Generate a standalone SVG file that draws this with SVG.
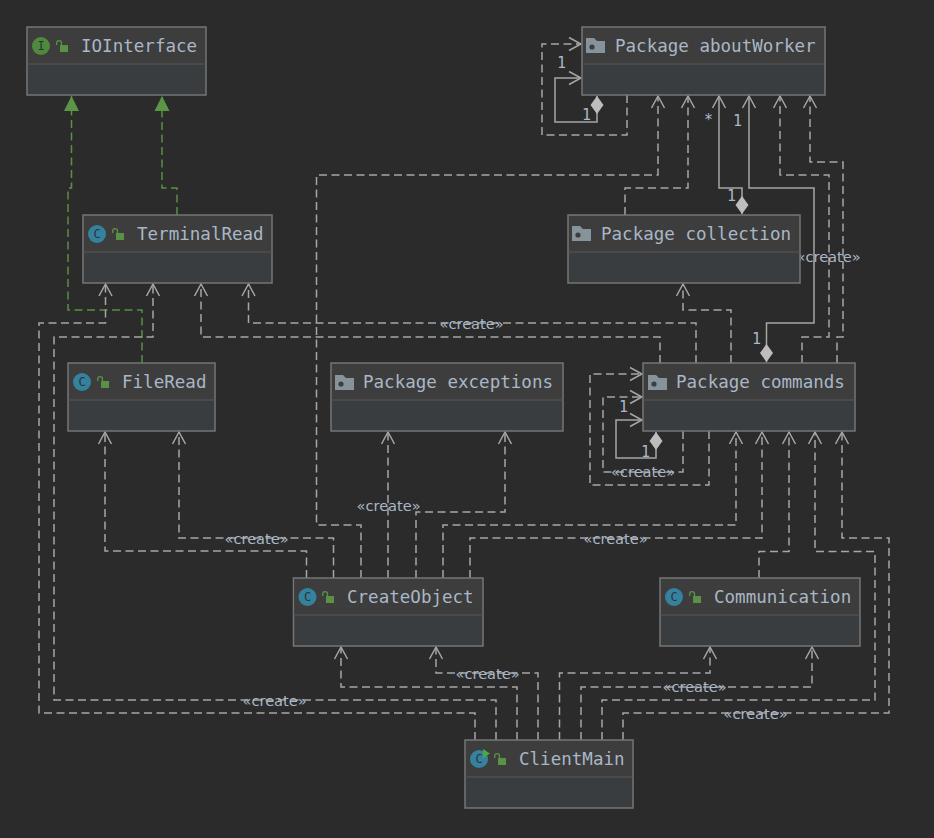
<svg xmlns="http://www.w3.org/2000/svg" xmlns:xlink="http://www.w3.org/1999/xlink" width="934" height="838" viewBox="0 0 934 838">
<style>
.bg{fill:#2b2b2b}
.body{fill:#3a3d3f;stroke:#757575;stroke-width:1.5}
.head{fill:#3d3d3d}
.div{stroke:#585858;stroke-width:1.2;fill:none}
.nm{font-family:"DejaVu Sans Mono","Liberation Mono",monospace;font-size:17.55px;fill:#a9b7c6}
.lb{font-family:"DejaVu Sans",sans-serif;font-size:14.6px;fill:#a9b7c6}
.mul{font-family:"DejaVu Sans Mono","Liberation Mono",monospace;font-size:15px;fill:#a9b7c6}
.dash{fill:none;stroke:#a6a6a6;stroke-width:1.5;stroke-dasharray:8 4.500;marker-end:url(#open)}
.solid{fill:none;stroke:#a6a6a6;stroke-width:1.5;marker-end:url(#open);marker-start:url(#dia)}
.real{fill:none;stroke:#5a8f46;stroke-width:1.5;stroke-dasharray:8 4.500;marker-end:url(#tri)}
.cc{fill:#35829f}
.ci{fill:#4f8a3c}
.ic{font-family:"DejaVu Sans Mono",monospace;font-size:12px;fill:#2b3338;text-anchor:middle}
.lock{fill:#599245}
.lockarc{fill:none;stroke:#599245;stroke-width:1.3}
.fold{fill:#87939a}
.hole{fill:#3d3d3d}
</style>
<defs>
<marker id="open" markerUnits="userSpaceOnUse" markerWidth="16" markerHeight="16" refX="14" refY="8" orient="auto" overflow="visible"><path d="M2 1.500 L14 8 L2 14.500" fill="none" stroke="#a6a6a6" stroke-width="1.5"/></marker>
<marker id="tri" markerUnits="userSpaceOnUse" markerWidth="16" markerHeight="16" refX="15" refY="8" orient="auto" overflow="visible"><path d="M0 0.5 L15 8 L0 15.5 Z" fill="#5a9646"/></marker>
<marker id="dia" markerUnits="userSpaceOnUse" markerWidth="19" markerHeight="14" refX="0" refY="7" orient="auto" overflow="visible"><path d="M0 7 L9 0.5 L18 7 L9 13.5 Z" fill="#bdbdbd"/></marker>
<g id="lk"><rect class="lock" x="4" y="4" width="8" height="7"/><path class="lockarc" d="M0.7 4 V2 A2.4 2.4 0 0 1 5.5 2 V4"/></g>
<g id="fd"><path class="fold" d="M0 0 H8 L11 3 H19 V15 H0 Z"/><circle class="hole" cx="6" cy="9" r="2.6"/></g>
</defs>
<rect class="bg" width="934" height="838"/>
<g id="connectors">
<path class="real" d="M142 363 V310 H68 V188 H71.500 V96"/>
<path class="real" d="M177 215 V188 H162 V96"/>
<path class="dash" d="M627 95 V135 H542 V44 H581"/>
<path class="solid" d="M597 96 V122 H555 V78 H581"/>
<path class="dash" d="M361 578 V525 H316.500 V175 H658 V96"/>
<path class="dash" d="M625 215 V188 H688 V96"/>
<path class="solid" d="M742 214 V188 H719 V96"/>
<path class="solid" d="M766.500 362 V323 H814 V188 H749 V96"/>
<path class="dash" d="M802 363 V337 H829 V175 H780 V96"/>
<path class="dash" d="M837 363 V337 H843 V162 H810 V96"/>
<path class="dash" d="M731 363 V310 H683 V284"/>
<path class="dash" d="M696 363 V323 H248.500 V284"/>
<path class="dash" d="M660 363 V337 H201 V284"/>
<path class="dash" d="M709 431 V485 H590 V374 H642"/>
<path class="dash" d="M683 431 V472 H603 V397 H642"/>
<path class="solid" d="M656 432 V458 H616 V420 H642"/>
<path class="dash" d="M443 578 V525 H736 V432"/>
<path class="dash" d="M470 578 V538 H762 V432"/>
<path class="dash" d="M759 578 V551.500 H789 V432"/>
<path class="dash" d="M602 740 V700 H875 V551.500 H815 V432"/>
<path class="dash" d="M623 740 V713 H889 V538 H842 V432"/>
<path class="dash" d="M388 578 V432"/>
<path class="dash" d="M416 578 V512 H505 V432"/>
<path class="dash" d="M306.500 578 V551 H105 V432"/>
<path class="dash" d="M333.500 578 V538 H179 V432"/>
<path class="dash" d="M517 740 V687 H341 V647"/>
<path class="dash" d="M538 740 V673 H436 V647"/>
<path class="dash" d="M559.500 740 V673 H710 V647"/>
<path class="dash" d="M581 740 V687 H812 V647"/>
<path class="dash" d="M475 740 V713 H39 V323 H105.500 V284"/>
<path class="dash" d="M496 740 V700 H54 V337 H153 V284"/>
<text class="lb" x="439.500" y="328.500">«create»</text>
<text class="lb" x="796.500" y="261.500">«create»</text>
<text class="lb" x="611" y="477">«create»</text>
<text class="lb" x="356.500" y="510.500">«create»</text>
<text class="lb" x="224.500" y="543.500">«create»</text>
<text class="lb" x="583.500" y="543.500">«create»</text>
<text class="lb" x="455.500" y="678.500">«create»</text>
<text class="lb" x="662.500" y="692">«create»</text>
<text class="lb" x="242.500" y="705.500">«create»</text>
<text class="lb" x="723.500" y="718.500">«create»</text>
<text class="mul" x="557" y="68">1</text>
<text class="mul" x="582" y="120">1</text>
<text class="mul" x="704" y="125">*</text>
<text class="mul" x="733" y="126">1</text>
<text class="mul" x="727" y="201">1</text>
<text class="mul" x="752" y="344">1</text>
<text class="mul" x="619" y="412">1</text>
<text class="mul" x="641" y="457">1</text>
</g>
<g id="node-iointerface"><rect class="body" x="27" y="27" width="179" height="68"/><rect class="head" x="28" y="28" width="177" height="36"/><path class="div" d="M27 64 H206"/><circle class="ci" cx="41" cy="46" r="9"/><text class="ic" x="41" y="50">I</text><use href="#lk" x="56" y="41"/><text class="nm" x="81" y="51.500">IOInterface</text></g>
<g id="node-terminalread"><rect class="body" x="83" y="215" width="189" height="68"/><rect class="head" x="84" y="216" width="187" height="36"/><path class="div" d="M83 252 H272"/><circle class="cc" cx="97" cy="234" r="9"/><text class="ic" x="97" y="238">C</text><use href="#lk" x="112" y="229"/><text class="nm" x="137" y="239.500">TerminalRead</text></g>
<g id="node-aboutworker"><rect class="body" x="582" y="27" width="243" height="68"/><rect class="head" x="583" y="28" width="241" height="36"/><path class="div" d="M582 64 H825"/><use href="#fd" x="586" y="38"/><text class="nm" x="615" y="51.500">Package aboutWorker</text></g>
<g id="node-collection"><rect class="body" x="568" y="215" width="232" height="68"/><rect class="head" x="569" y="216" width="230" height="36"/><path class="div" d="M568 252 H800"/><use href="#fd" x="572" y="226"/><text class="nm" x="601" y="239.500">Package collection</text></g>
<g id="node-commands"><rect class="body" x="643" y="363" width="212" height="68"/><rect class="head" x="644" y="364" width="210" height="36"/><path class="div" d="M643 400 H855"/><use href="#fd" x="648" y="375"/><text class="nm" x="676" y="387.500">Package commands</text></g>
<g id="node-fileread"><rect class="body" x="68" y="363" width="147" height="68"/><rect class="head" x="69" y="364" width="145" height="36"/><path class="div" d="M68 400 H215"/><circle class="cc" cx="82" cy="382" r="9"/><text class="ic" x="82" y="386">C</text><use href="#lk" x="97" y="377"/><text class="nm" x="122" y="387.500">FileRead</text></g>
<g id="node-exceptions"><rect class="body" x="331" y="363" width="232" height="68"/><rect class="head" x="332" y="364" width="230" height="36"/><path class="div" d="M331 400 H563"/><use href="#fd" x="335" y="375"/><text class="nm" x="363" y="387.500">Package exceptions</text></g>
<g id="node-createobject"><rect class="body" x="293.500" y="578" width="189.500" height="68"/><rect class="head" x="294.500" y="579" width="187.500" height="36"/><path class="div" d="M293.500 615 H483"/><circle class="cc" cx="307.500" cy="597" r="9"/><text class="ic" x="307.500" y="601">C</text><use href="#lk" x="322" y="592"/><text class="nm" x="347" y="602.500">CreateObject</text></g>
<g id="node-communication"><rect class="body" x="660" y="578" width="200" height="68"/><rect class="head" x="661" y="579" width="198" height="36"/><path class="div" d="M660 615 H860"/><circle class="cc" cx="674" cy="597" r="9"/><text class="ic" x="674" y="601">C</text><use href="#lk" x="689" y="592"/><text class="nm" x="714" y="602.500">Communication</text></g>
<g id="node-clientmain"><rect class="body" x="465" y="740" width="168" height="68"/><rect class="head" x="466" y="741" width="166" height="36"/><path class="div" d="M465 777 H633"/><circle class="cc" cx="479" cy="759" r="9"/><text class="ic" x="479" y="763">C</text><path d="M483 749 L490 753.500 L483 758 Z" fill="#4fa83c"/><use href="#lk" x="494" y="754"/><text class="nm" x="519" y="764.500">ClientMain</text></g>
</svg>
